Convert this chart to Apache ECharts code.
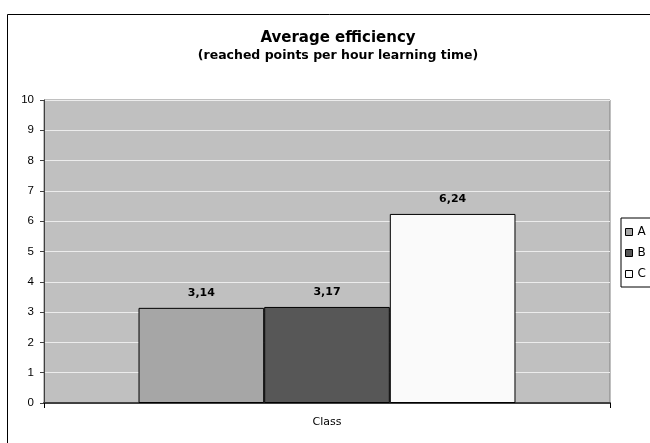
<!DOCTYPE html>
<html>
<head>
<meta charset="utf-8">
<style>html,body{margin:0;padding:0;background:#fff}#c{width:650px;height:443px}</style>
<script src="https://cdn.jsdelivr.net/npm/echarts@6/dist/echarts.min.js"></script>
</head>
<body>
<div id="c"></div>
<script>
var categories = ['Class'];
var seriesNames = ['A', 'B', 'C'];
var seriesValues = [3.14, 3.17, 6.24];
var seriesColors = ['#a6a6a6', '#575757', '#fafafa'];
var yTicks = [0, 10, 1];

var chart = echarts.init(document.getElementById('c'), null, {renderer: 'canvas'});
var font = 'DejaVu Sans, Liberation Sans, Arial, sans-serif';
var font2 = 'Liberation Sans, Arial, sans-serif';
var series = seriesNames.map(function (n, i) {
  return {
    name: n,
    type: 'bar',
    data: [seriesValues[i]],
    barGap: '0%',
    barCategoryGap: '33.4%',
    itemStyle: {color: seriesColors[i], borderColor: '#000', borderWidth: 1},
    label: {
      show: true, position: 'top', distance: 9,
      fontFamily: font, fontSize: 11, fontWeight: 'bold', color: '#000',
      formatter: function (p) { return p.value.toFixed(2).replace('.', ','); }
    },
    emphasis: {disabled: true},
    animation: false
  };
});
chart.setOption({
  animation: false,
  graphic: [{
    type: 'rect', left: 5, top: 12, silent: true,
    shape: {width: 700, height: 470},
    style: {fill: 'none', stroke: '#000', lineWidth: 1}
  }],
  title: {
    text: 'Average efficiency',
    subtext: '(reached points per hour learning time)',
    left: 333, textAlign: 'center', top: 26, itemGap: 3,
    textStyle: {fontFamily: font, fontSize: 15, fontWeight: 'bold', color: '#000'},
    subtextStyle: {fontFamily: font, fontSize: 12.5, fontWeight: 'bold', color: '#000'}
  },
  legend: {
    orient: 'vertical', left: 621, top: 218,
    data: seriesNames,
    itemWidth: 7, itemHeight: 7, itemGap: 9,
    padding: [8, 40, 7, 4],
    borderColor: '#000', borderWidth: 1,
    icon: 'rect',
    itemStyle: {borderColor: '#000', borderWidth: 1},
    textStyle: {fontFamily: font, fontSize: 12, color: '#000'}
  },
  grid: {
    left: 44, top: 100, right: 40, bottom: 40,
    show: true, backgroundColor: '#c0c0c0', borderColor: '#808080', borderWidth: 1
  },
  xAxis: {
    type: 'category', data: categories,
    axisLine: {lineStyle: {color: '#404040', width: 2}},
    axisTick: {show: true, length: 5, lineStyle: {color: '#000'}},
    axisLabel: {fontFamily: font, fontSize: 11, color: '#000', margin: 14}
  },
  yAxis: {
    type: 'value', min: yTicks[0], max: yTicks[1], interval: yTicks[2],
    axisLine: {show: true, lineStyle: {color: '#404040'}},
    axisTick: {show: true, length: 4, lineStyle: {color: '#404040'}},
    axisLabel: {fontFamily: font2, fontSize: 11.5, color: '#000', margin: 10},
    splitLine: {lineStyle: {color: '#ececec', width: 1}}
  },
  series: series
});
</script>
</body>
</html>
